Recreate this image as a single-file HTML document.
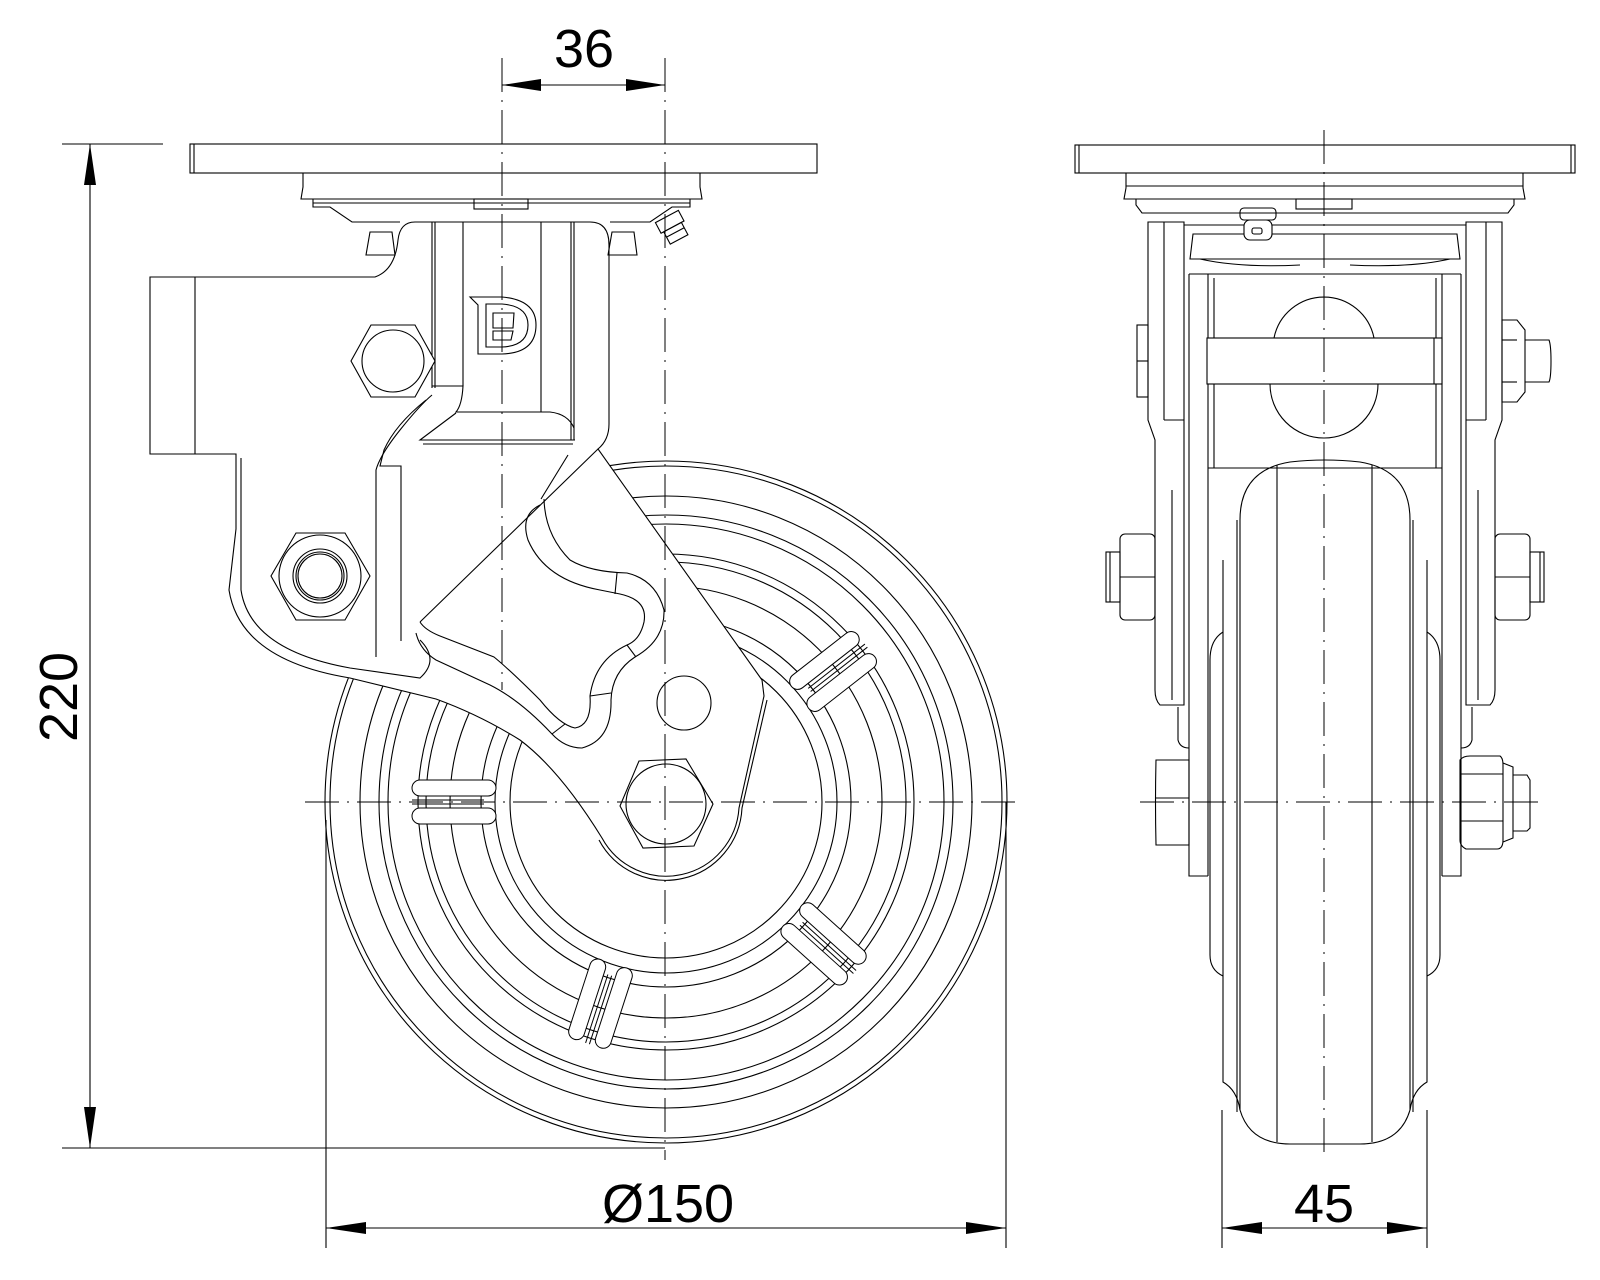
<!DOCTYPE html>
<html><head><meta charset="utf-8"><style>
html,body{margin:0;padding:0;background:#fff;}
svg{display:block;}
text{font-family:"Liberation Sans",sans-serif;font-size:54px;fill:#000;}
</style></head><body>
<svg width="1600" height="1280" viewBox="0 0 1600 1280" xmlns="http://www.w3.org/2000/svg">
<defs>
<g id="rib">
<rect x="-42" y="-22" width="84" height="16" rx="8" fill="#fff" stroke="#000" stroke-width="1"/>
<rect x="-42" y="6" width="84" height="16" rx="8" fill="#fff" stroke="#000" stroke-width="1"/>
<line x1="-30" y1="-2" x2="42" y2="-2" stroke="#000" stroke-width="1"/>
<line x1="-30" y1="2" x2="42" y2="2" stroke="#000" stroke-width="1"/>
</g>
</defs>
<g fill="none" stroke="#000" stroke-width="1.1">

<!-- ===== LEFT VIEW : WHEEL ===== -->
<g fill="none">
<circle cx="666" cy="802" r="341"/>
<circle cx="666" cy="802" r="336"/>
<circle cx="666" cy="802" r="306"/>
<circle cx="666" cy="802" r="287"/>
<circle cx="666" cy="802" r="278"/>
<circle cx="666" cy="802" r="248"/>
<circle cx="666" cy="802" r="240"/>
<circle cx="666" cy="802" r="216"/>
<circle cx="666" cy="802" r="185"/>
<circle cx="666" cy="802" r="171"/>
<circle cx="666" cy="802" r="156"/>
</g>
<use href="#rib" transform="translate(666,802) rotate(180) translate(212,0)"/>
<use href="#rib" transform="translate(666,802) rotate(-38) translate(212,0)"/>
<use href="#rib" transform="translate(666,802) rotate(42) translate(212,0)"/>
<use href="#rib" transform="translate(666,802) rotate(108) translate(212,0)"/>

<!-- ===== LEFT VIEW : BODY ===== -->
<path fill="#fff" d="M150,277 L375,277 Q395,270 398,240 Q400,222 415,222 L590,222 Q609,222 609,245 L609,424 Q609,440 598,449 L762,680 L764,696 L739,808 A73,73 0 0 1 602,838 Q560,770 520,740 Q480,715 436,699 L350,678 Q240,660 229,590 L236,529 L236,454 L150,454 Z"/>
<line x1="195" y1="277" x2="195" y2="454"/>
<path d="M241,458 L241,590 Q250,650 350,668 L420,678 Q440,660 420,640"/>
<!-- housing lines -->
<line x1="432" y1="222" x2="432" y2="388"/>
<line x1="435" y1="222" x2="435" y2="388"/>
<line x1="463" y1="222" x2="463" y2="386"/>
<line x1="541" y1="222" x2="541" y2="412"/>
<line x1="571" y1="222" x2="571" y2="440"/>
<line x1="574" y1="222" x2="574" y2="440"/>
<path d="M432,386 L463,386 Q462,405 456,412 L550,412 Q568,414 574,428"/>
<path d="M456,413 L420,440 L575,440"/>
<line x1="423" y1="444" x2="573" y2="444"/>
<path d="M432,395 Q420,405 400,430 Q380,455 376,470 L376,657"/>
<path d="M426,400 Q395,425 384,450 L380,466 L401,466 L401,641"/>
<!-- diagonal lines of arm -->
<line x1="598" y1="449" x2="420" y2="622"/>
<line x1="568" y1="455" x2="541" y2="499"/>
<!-- lever cutout -->
<path d="M540,505 Q520,515 528,540 Q545,580 600,590 L620,594 Q648,600 644,622 Q640,640 627,645 Q595,660 590,696 Q592,725 575,728 Q560,725 540,700 Q510,670 494,657 L440,636 Q425,630 420,622"/>
<path d="M544,499 Q545,535 570,560 Q590,572 627,573 Q656,580 664,610 Q665,640 635,657 Q612,672 611,700 Q612,740 582,748 Q565,748 552,734 Q520,700 490,685 L436,660 Q420,650 416,633"/>
<line x1="615" y1="594" x2="617" y2="573"/>
<line x1="627" y1="645" x2="636" y2="657"/>
<line x1="590" y1="696" x2="611" y2="693"/>
<line x1="565" y1="724" x2="552" y2="734"/>
<path d="M767,700 L742,808 A76,76 0 0 1 599,840"/>
<circle cx="684" cy="703" r="27"/>
<!-- axle nut -->
<polygon fill="#fff" points="639,761 686,759 713,804 694,846 643,848 620,806"/>
<circle cx="666" cy="804" r="40"/>
<!-- upper nut -->
<polygon fill="#fff" points="371,325 415,325 435,361 415,397 371,397 351,361"/>
<circle cx="393" cy="361" r="31"/>
<!-- lower nut -->
<polygon fill="#fff" points="296,533 345,533 370,576 345,620 296,620 271,576"/>
<circle cx="320" cy="576" r="41"/>
<circle cx="320" cy="576" r="27"/>
<circle cx="320" cy="576" r="24"/>
<circle cx="320" cy="576" r="22"/>
<!-- logo -->
<path d="M470,297 L502,297 Q536,300 536,325 Q536,353 502,354 L478,354 L478,305 Z"/>
<path d="M486,304 L502,304 Q528,306 528,325 Q528,346 502,347 L486,347 Z"/>
<path d="M493,313 L514,313 L513,328 L493,328 Z M493,331 L513,331 L511,340 L493,340 Z"/>

<!-- top plate + bearings -->
<rect x="190" y="144" width="627" height="29" fill="#fff"/>
<line x1="194" y1="144" x2="194" y2="173"/>
<path d="M303,173 L303,187 L301,199 L702,199 L700,187 L700,173"/>
<path d="M313,199 L313,207 L330,207 L352,222 L400,222"/>
<path d="M690,199 L690,207 L672,207 L650,222 L610,222"/>
<line x1="313" y1="203" x2="690" y2="203"/>
<rect x="474" y="199" width="54" height="10"/>
<path d="M370,232 L392,232 L395,255 L366,255 Z"/>
<path d="M612,232 L634,232 L637,255 L608,255 Z"/>
<g transform="translate(673,228) rotate(-28)">
<rect x="-13" y="-13" width="26" height="12"/>
<rect x="-10" y="-1" width="20" height="14"/>
<line x1="-10" y1="5" x2="10" y2="5"/>
</g>

<!-- ===== RIGHT VIEW ===== -->
<path fill="#fff" d="M1223,560 L1223,1082 Q1237,1090 1240,1110 Q1250,1144 1290,1144 L1360,1144 Q1400,1144 1410,1110 Q1413,1090 1427,1082 L1427,560"/>
<path d="M1240,1110 L1240,520 Q1240,470 1290,462 Q1325,458 1360,462 Q1410,470 1410,520 L1410,1110"/>
<line x1="1237" y1="520" x2="1237" y2="1112"/>
<line x1="1413" y1="520" x2="1413" y2="1112"/>
<line x1="1277" y1="465" x2="1277" y2="1142"/>
<line x1="1372" y1="465" x2="1372" y2="1142"/>
<path d="M1223,632 Q1210,640 1210,660 L1210,955 Q1210,970 1223,976"/>
<path d="M1427,632 Q1440,640 1440,660 L1440,955 Q1440,970 1427,976"/>
<path d="M1189,274 L1189,876 L1208,876"/>
<line x1="1208" y1="274" x2="1208" y2="876" />
<path d="M1461,274 L1461,876 L1442,876"/>
<line x1="1442" y1="274" x2="1442" y2="876"/>
<line x1="1189" y1="274" x2="1461" y2="274"/>
<line x1="1214" y1="278" x2="1214" y2="468"/>
<line x1="1436" y1="278" x2="1436" y2="468"/>
<line x1="1208" y1="468" x2="1442" y2="468"/>
<path d="M1148,222 L1184,222 L1184,705 L1160,705 Q1155,700 1155,690 L1155,440 L1148,420 Z"/>
<path d="M1502,222 L1466,222 L1466,705 L1490,705 Q1495,700 1495,690 L1495,440 L1502,420 Z"/>
<line x1="1164" y1="222" x2="1164" y2="420"/>
<line x1="1486" y1="222" x2="1486" y2="420"/>
<line x1="1164" y1="420" x2="1184" y2="420"/>
<line x1="1466" y1="420" x2="1486" y2="420"/>
<line x1="1172" y1="490" x2="1172" y2="700"/>
<line x1="1478" y1="490" x2="1478" y2="700"/>
<path d="M1178,707 L1178,740 Q1180,748 1189,748"/>
<path d="M1472,707 L1472,740 Q1470,748 1461,748"/>
<path d="M1274,338 A51,51 0 0 1 1374,338"/>
<path d="M1270,384 A54,54 0 0 0 1378,384"/>
<rect x="1207" y="338" width="235" height="46" fill="#fff"/>
<line x1="1434" y1="338" x2="1434" y2="384"/>
<path d="M1193,234 L1457,234 L1460,259 L1190,259 Z"/>
<path d="M1200,259 Q1240,268 1300,265 M1350,265 Q1410,268 1450,259"/>
<line x1="1184" y1="225" x2="1466" y2="225"/>
<rect x="1075" y="145" width="500" height="28" fill="#fff"/>
<line x1="1079" y1="145" x2="1079" y2="173"/>
<line x1="1571" y1="145" x2="1571" y2="173"/>
<path d="M1126,173 L1126,188 L1124,199 L1525,199 L1523,188 L1523,173"/>
<line x1="1126" y1="186" x2="1523" y2="186"/>
<path d="M1136,199 L1136,205 L1142,213 L1508,213 L1514,205 L1514,199"/>
<rect x="1296" y="199" width="56" height="10"/>
<g transform="translate(1258,228)">
<rect x="-18" y="-20" width="36" height="12" rx="4"/>
<rect x="-14" y="-8" width="28" height="20" rx="6" fill="#fff"/>
<rect x="-6" y="0" width="10" height="6" rx="2"/>
</g>
<rect x="1137" y="325" width="11" height="72"/>
<line x1="1137" y1="361" x2="1148" y2="361"/>
<path d="M1502,320 L1517,320 L1525,330 L1525,392 L1517,402 L1502,402 Z"/>
<line x1="1502" y1="340" x2="1517" y2="340"/>
<line x1="1502" y1="382" x2="1517" y2="382"/>
<path d="M1525,340 L1549,340 Q1551,345 1551,361 Q1551,378 1549,382 L1525,382"/>
<rect x="1120" y="534" width="35" height="86" rx="5"/>
<line x1="1120" y1="577" x2="1155" y2="577"/>
<rect x="1106" y="552" width="14" height="50"/>
<line x1="1110" y1="552" x2="1110" y2="602"/>
<rect x="1495" y="534" width="35" height="86" rx="5"/>
<line x1="1495" y1="577" x2="1530" y2="577"/>
<rect x="1530" y="552" width="14" height="50"/>
<line x1="1540" y1="552" x2="1540" y2="602"/>
<path d="M1156,760 L1189,760 L1189,845 L1156,845 Q1155,802 1156,760 Z"/>
<line x1="1156" y1="798" x2="1189" y2="798"/>
<path d="M1460,760 Q1463,756 1470,756 L1500,756 Q1503,758 1503,765 L1503,840 Q1503,849 1497,849 L1466,849 Q1460,846 1460,840 Z"/>
<line x1="1460" y1="774" x2="1503" y2="774"/>
<line x1="1460" y1="821" x2="1503" y2="821"/>
<path d="M1503,763 L1513,767 L1513,838 L1503,842"/>
<path d="M1513,775 L1527,775 L1530,780 L1530,828 L1527,831 L1513,831"/>
</g>

<g stroke="#000" stroke-width="1" stroke-dasharray="34,8,2,8" fill="none">
<line x1="502" y1="58" x2="502" y2="690"/>
<line x1="665" y1="58" x2="665" y2="1160"/>
<line x1="305" y1="802" x2="1020" y2="802"/>
<line x1="1324" y1="130" x2="1324" y2="1160"/>
<line x1="1140" y1="802" x2="1545" y2="802"/>
</g>

<g stroke="#000" stroke-width="1.1">
<line x1="62" y1="144" x2="163" y2="144"/>
<line x1="62" y1="1148" x2="665" y2="1148"/>
<line x1="90" y1="144" x2="90" y2="1148"/>
<line x1="502" y1="85" x2="665" y2="85"/>
<line x1="326" y1="820" x2="326" y2="1248"/>
<line x1="1006" y1="802" x2="1006" y2="1248"/>
<line x1="326" y1="1228" x2="1006" y2="1228"/>
<line x1="1222" y1="1110" x2="1222" y2="1248"/>
<line x1="1427" y1="1110" x2="1427" y2="1248"/>
<line x1="1222" y1="1228" x2="1427" y2="1228"/>
</g>
<g fill="#000">
<polygon points="90,144 84,185 96,185"/>
<polygon points="90,1148 84,1107 96,1107"/>
<polygon points="502,85 541,79 541,91"/>
<polygon points="665,85 626,79 626,91"/>
<polygon points="326,1228 366,1222 366,1234"/>
<polygon points="1006,1228 966,1222 966,1234"/>
<polygon points="1222,1228 1262,1222 1262,1234"/>
<polygon points="1427,1228 1387,1222 1387,1234"/>
</g>
<text x="584" y="67" text-anchor="middle">36</text>
<text transform="translate(77,697) rotate(-90)" text-anchor="middle">220</text>
<text x="668" y="1222" text-anchor="middle">Ø150</text>
<text x="1324" y="1222" text-anchor="middle">45</text>
</svg>
</body></html>
